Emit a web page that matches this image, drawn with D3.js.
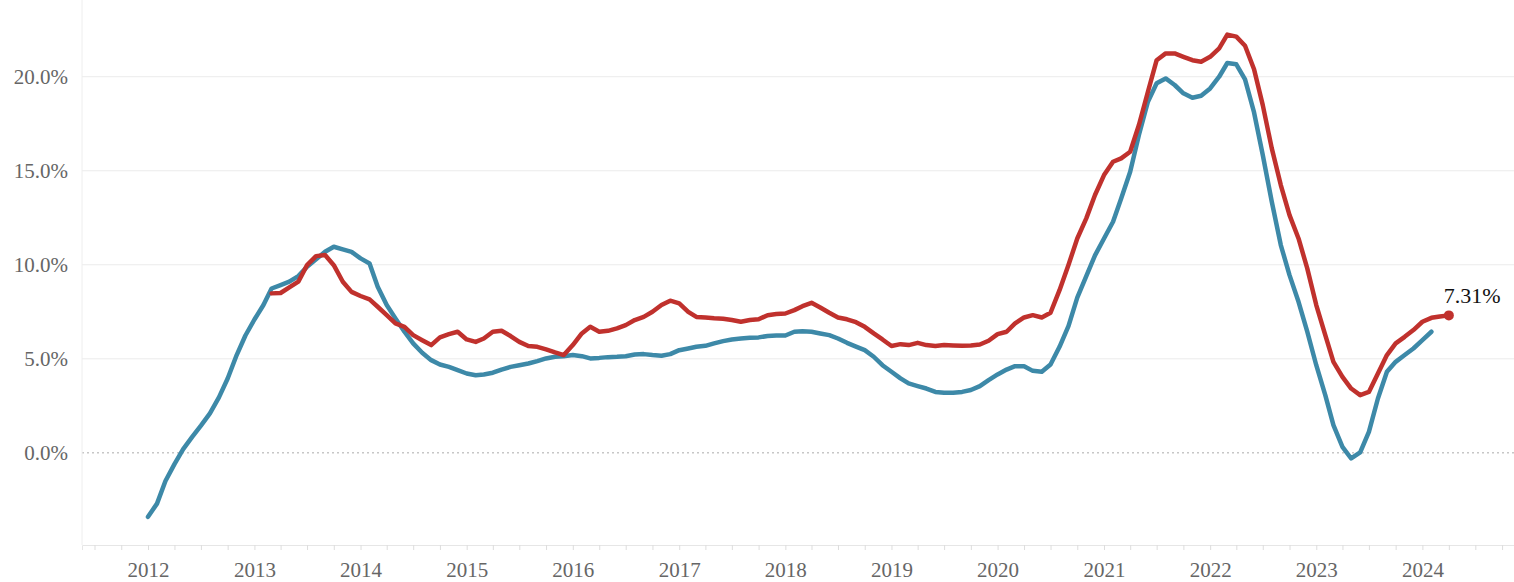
<!DOCTYPE html>
<html>
<head>
<meta charset="utf-8">
<script src="https://cdn.jsdelivr.net/npm/d3@7"></script>
<style>
  html, body { margin: 0; padding: 0; background: #fff; }
  svg { display: block; font-family: "Liberation Serif", "DejaVu Serif", serif; }
</style>
</head>
<body>
<div id="chart"></div>
<script>
// monthly values, blue series starts Jan 2012, red series starts Mar 2013
const blueStart = [2012, 0];
const blueValues = [
  -3.4, -2.7, -1.5, -0.6, 0.2, 0.85, 1.45, 2.1, 2.95, 3.95, 5.2, 6.24,
  7.09, 7.86, 8.74, 8.92, 9.1, 9.4, 9.9, 10.29, 10.69, 10.96, 10.82, 10.69,
  10.34, 10.07, 8.83, 7.86, 7.15, 6.44, 5.82, 5.32, 4.93, 4.7, 4.57, 4.4,
  4.22, 4.13, 4.17, 4.26, 4.43, 4.57, 4.66, 4.75, 4.88, 5.02, 5.11, 5.14,
  5.2, 5.14, 5.02, 5.05, 5.09, 5.11, 5.14, 5.23, 5.25, 5.2, 5.16, 5.25,
  5.46, 5.55, 5.64, 5.69, 5.82, 5.94, 6.03, 6.08, 6.12, 6.14, 6.21, 6.24,
  6.24, 6.44, 6.47, 6.44, 6.35, 6.26, 6.08, 5.85, 5.65, 5.46, 5.11, 4.66,
  4.31, 3.96, 3.69, 3.55, 3.42, 3.24, 3.19, 3.19, 3.24, 3.34, 3.55, 3.87,
  4.17, 4.43, 4.61, 4.61, 4.36, 4.31, 4.7, 5.64, 6.75, 8.25, 9.4, 10.5,
  11.4, 12.29, 13.53, 14.95, 16.9, 18.67, 19.65, 19.91, 19.56, 19.12, 18.88, 18.99,
  19.38, 20.0, 20.73, 20.66, 19.86, 18.1, 15.84, 13.35, 11.05, 9.45, 8.03, 6.44,
  4.66, 3.07, 1.47, 0.32, -0.3, 0.02, 1.12, 2.89, 4.31, 4.84, 5.2, 5.55,
  5.99, 6.44
];
const redStart = [2013, 2];
const redValues = [
  8.48, 8.5, 8.8, 9.1, 9.98, 10.46, 10.52, 9.98, 9.1, 8.56,
  8.34, 8.16, 7.77, 7.32, 6.88, 6.7, 6.26, 5.99, 5.73, 6.14, 6.31, 6.44,
  6.03, 5.9, 6.08, 6.44, 6.49, 6.21, 5.9, 5.68, 5.64, 5.5, 5.34, 5.2,
  5.73, 6.35, 6.7, 6.44, 6.49, 6.62, 6.79, 7.06, 7.23, 7.5, 7.86, 8.09,
  7.95, 7.5, 7.23, 7.2, 7.16, 7.13, 7.06, 6.97, 7.06, 7.1, 7.32, 7.38,
  7.41, 7.59, 7.8, 7.98, 7.73, 7.45, 7.2, 7.1, 6.95, 6.7, 6.35, 6.03,
  5.68, 5.78, 5.73, 5.85, 5.73, 5.68, 5.73, 5.71, 5.69, 5.71, 5.76, 5.96,
  6.31, 6.44, 6.88, 7.2, 7.32, 7.2, 7.45, 8.65, 10.0, 11.4, 12.47, 13.71,
  14.77, 15.48, 15.66, 16.01, 17.43, 19.2, 20.88, 21.24, 21.24, 21.06, 20.88, 20.8,
  21.06, 21.51, 22.24, 22.13, 21.65, 20.4, 18.49, 16.19, 14.24, 12.64, 11.4, 9.81,
  7.86, 6.26, 4.84, 4.04, 3.42, 3.07, 3.24, 4.22, 5.2, 5.82, 6.17, 6.53,
  6.97, 7.18, 7.25, 7.31
];
const yTicks = [0, 5, 10, 15, 20];
const yearTicks = d3.range(2012, 2025);

const blueColor = "#3d89a8";
const redColor = "#c0312d";

const width = 1514, height = 582;
const plot = {left: 82, right: 1514, top: 0, bottom: 545};

// turn a start month + value list into dated points
function toSeries(start, values) {
  return values.map((v, i) => ({date: new Date(start[0], start[1] + i, 1), value: v}));
}
const blue = toSeries(blueStart, blueValues);
const red = toSeries(redStart, redValues);

const svg = d3.select("#chart").append("svg")
  .attr("width", width)
  .attr("height", height);

// x: place 2012 and 2024 where the picture has them, then widen to the plot edges
const x = d3.scaleTime()
  .domain([new Date(2012, 0, 1), new Date(2024, 0, 1)])
  .range([148, 1422.4]);
x.domain([x.invert(plot.left), x.invert(plot.right)]).range([plot.left, plot.right]);

const y = d3.scaleLinear()
  .domain([-4.9, 24.08])
  .range([plot.bottom, plot.top]);

// grid lines
svg.append("g")
  .selectAll("line")
  .data(yTicks)
  .join("line")
  .attr("x1", plot.left)
  .attr("x2", plot.right)
  .attr("y1", d => y(d))
  .attr("y2", d => y(d))
  .attr("stroke", d => d === 0 ? "#aaa" : "#ebebeb")
  .attr("stroke-width", 1)
  .attr("stroke-dasharray", d => d === 0 ? "2,3" : null);

// left frame line
svg.append("line")
  .attr("x1", plot.left).attr("x2", plot.left)
  .attr("y1", plot.top).attr("y2", plot.bottom)
  .attr("stroke", "#eeeeee");

// y axis labels
const yAxisG = svg.append("g")
  .attr("transform", "translate(" + plot.left + ",0)")
  .call(d3.axisLeft(y).tickValues(yTicks).tickSize(0).tickPadding(14)
    .tickFormat(d => d3.format(".1f")(d) + "%"));
yAxisG.select(".domain").remove();
yAxisG.selectAll("text")
  .attr("fill", "#666")
  .style("font-size", "21px")
  .style("font-family", "Liberation Serif, serif");

// x axis with quarterly ticks, labels on years
const quarterTicks = d3.timeMonth.every(3).range(x.domain()[0], x.domain()[1]);
const xAxisG = svg.append("g")
  .attr("transform", "translate(0," + plot.bottom + ")")
  .call(d3.axisBottom(x).tickValues(quarterTicks).tickSize(5).tickPadding(12)
    .tickFormat(d => d.getMonth() === 0 && yearTicks.includes(d.getFullYear()) ? d.getFullYear() : ""));
xAxisG.select(".domain").attr("stroke", "#e6e6e6");
xAxisG.selectAll(".tick line").attr("stroke", "#dddddd");
xAxisG.selectAll("text")
  .attr("fill", "#666")
  .style("font-size", "21px")
  .style("font-family", "Liberation Serif, serif");

const line = d3.line()
  .x(d => x(d.date))
  .y(d => y(d.value));

svg.append("path")
  .datum(blue)
  .attr("fill", "none")
  .attr("stroke", blueColor)
  .attr("stroke-width", 4.5)
  .attr("stroke-linejoin", "round")
  .attr("stroke-linecap", "round")
  .attr("d", line);

svg.append("path")
  .datum(red)
  .attr("fill", "none")
  .attr("stroke", redColor)
  .attr("stroke-width", 4.5)
  .attr("stroke-linejoin", "round")
  .attr("stroke-linecap", "round")
  .attr("d", line);

// end marker and label on the red series
const last = red[red.length - 1];
svg.append("circle")
  .attr("cx", x(last.date))
  .attr("cy", y(last.value))
  .attr("r", 5)
  .attr("fill", redColor);

svg.append("text")
  .attr("x", x(last.date) - 5)
  .attr("y", y(last.value) - 12)
  .attr("fill", "#111")
  .style("font-size", "22px")
  .style("font-family", "Liberation Serif, serif")
  .text(d3.format(".2f")(last.value) + "%");
</script>
</body>
</html>
